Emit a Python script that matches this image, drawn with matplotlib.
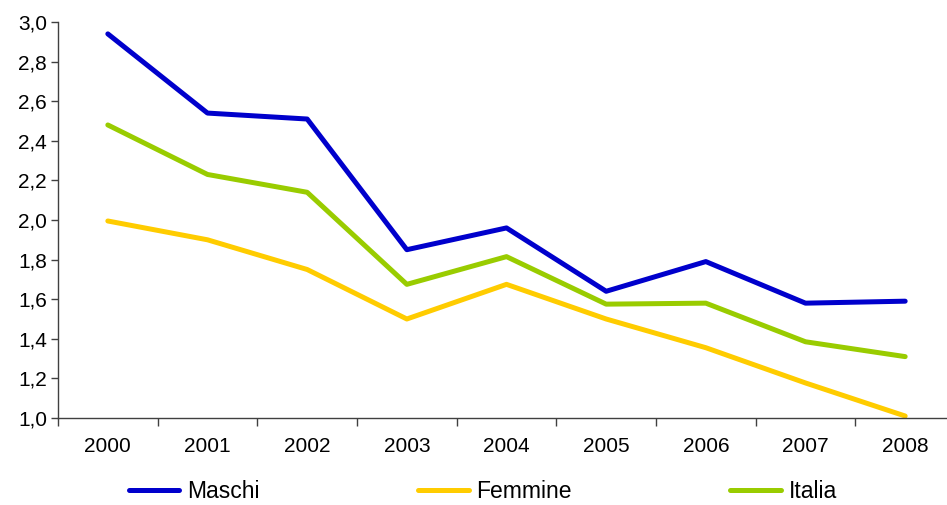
import matplotlib
matplotlib.use("Agg")
from matplotlib import pyplot as plt
import numpy as np

plt.rcParams['font.family'] = ['Liberation Sans', 'DejaVu Sans']

years = ['2000', '2001', '2002', '2003', '2004', '2005', '2006', '2007', '2008']
maschi = [2.94, 2.54, 2.51, 1.85, 1.96, 1.64, 1.79, 1.58, 1.59]
femmine = [1.995, 1.90, 1.75, 1.50, 1.675, 1.50, 1.355, 1.177, 1.01]
italia = [2.48, 2.23, 2.14, 1.675, 1.815, 1.575, 1.58, 1.385, 1.31]
yticks = [1.0, 1.2, 1.4, 1.6, 1.8, 2.0, 2.2, 2.4, 2.6, 2.8, 3.0]

fig = plt.figure(figsize=(9.47, 5.05), dpi=100)
# axis runs a bit past the right edge, like the original
ax = fig.add_axes([58 / 947, 87 / 505, 897 / 947, 396 / 505])

x = np.arange(len(years))
ax.plot(x, maschi, color='#0000CC', lw=3.6, label='Maschi', solid_capstyle='round')
ax.plot(x, femmine, color='#FFCC00', lw=3.6, label='Femmine', solid_capstyle='round')
ax.plot(x, italia, color='#99CC00', lw=3.6, label='Italia', solid_capstyle='round')

ax.set_xlim(-0.5, len(years) - 0.5)
ax.set_ylim(1.0, 3.0)

ax.set_xticks(np.arange(len(years) + 1) - 0.5)
ax.set_xticklabels([])
ax.set_xticks(x, minor=True)
ax.set_xticklabels(years, minor=True, fontsize=15)
ax.tick_params(axis='x', which='major', length=6, width=1, color='#404040', direction='out')
ax.tick_params(axis='x', which='minor', length=0, pad=14)

ax.set_yticks(yticks)
ax.set_yticklabels([f"{v:.1f}".replace('.', ',') for v in yticks], fontsize=15)
ax.tick_params(axis='y', length=5, width=1, color='#404040', pad=3)

for s in ['top', 'right']:
    ax.spines[s].set_visible(False)
for s in ['left', 'bottom']:
    ax.spines[s].set_color('#404040')
    ax.spines[s].set_linewidth(1)

fig.legend(loc='lower center', bbox_to_anchor=(0.510, -0.036), ncol=3, frameon=False,
           fontsize=16.5, handlelength=2.2, handletextpad=0.35, columnspacing=6.9)

fig.savefig('out.png', dpi=100)
